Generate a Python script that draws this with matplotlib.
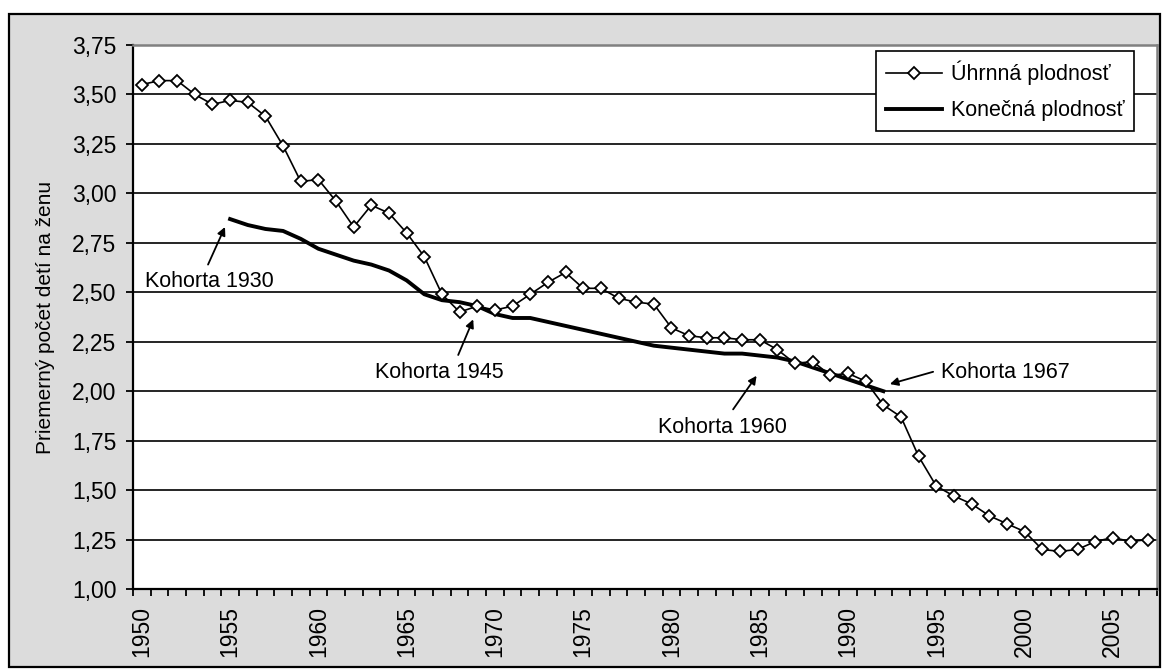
import matplotlib as mpl
import matplotlib.pyplot as plt
from matplotlib.patches import Rectangle
from matplotlib.ticker import FixedLocator, FuncFormatter

mpl.use("Agg")
plt.rcParams["font.family"] = ["Liberation Sans", "DejaVu Sans"]

# --- Data ---
years = list(range(1950, 2008))
tfr = [
    3.55, 3.57, 3.57, 3.50, 3.45, 3.47, 3.46, 3.39, 3.24, 3.06,
    3.07, 2.96, 2.83, 2.94, 2.90, 2.80, 2.68, 2.49, 2.40, 2.43,
    2.41, 2.43, 2.49, 2.55, 2.60, 2.52, 2.52, 2.47, 2.45, 2.44,
    2.32, 2.28, 2.27, 2.27, 2.26, 2.26, 2.21, 2.14, 2.15, 2.08,
    2.09, 2.05, 1.93, 1.87, 1.67, 1.52, 1.47, 1.43, 1.37, 1.33,
    1.29, 1.20, 1.19, 1.20, 1.24, 1.26, 1.24, 1.25,
]
# completed cohort fertility, cohorts 1930-1967 plotted at cohort + 25
cohort_years = list(range(1955, 1993))
cohort_cfr = [
    2.87, 2.84, 2.82, 2.81, 2.77, 2.72, 2.69, 2.66, 2.64, 2.61,
    2.56, 2.49, 2.46, 2.45, 2.43, 2.39, 2.37, 2.37, 2.35, 2.33,
    2.31, 2.29, 2.27, 2.25, 2.23, 2.22, 2.21, 2.20, 2.19, 2.19,
    2.18, 2.17, 2.15, 2.12, 2.09, 2.06, 2.03, 2.00,
]
series_labels = ["Úhrnná plodnosť", "Konečná plodnosť"]
y_label = "Priemerný počet detí na ženu"
y_ticks = [1.00, 1.25, 1.50, 1.75, 2.00, 2.25, 2.50, 2.75, 3.00, 3.25, 3.50, 3.75]
x_label_years = list(range(1950, 2010, 5))

W, H = 1165, 671
fs = 15.5      # annotations, legend
fs_tick = 16.5

fig = plt.figure(figsize=(W / 100, H / 100), dpi=100)
fig.patch.set_facecolor("white")
# chart area (grey with black frame)
frame = Rectangle((9 / W, 1 - 667 / H), (1160 - 9) / W, (667 - 14) / H,
                  transform=fig.transFigure, facecolor="#dcdcdc",
                  edgecolor="black", linewidth=1.6, zorder=-10)
fig.add_artist(frame)

ax = fig.add_axes([133 / W, 1 - 589 / H, (1157 - 133) / W, (589 - 45) / H])
ax.set_zorder(1)
ax.set_facecolor("white")

ax.plot(years, tfr, color="black", lw=1.2, marker="D", markersize=6.6,
        markerfacecolor="white", markeredgecolor="black", markeredgewidth=1.3,
        label=series_labels[0], zorder=4)
ax.plot(cohort_years, cohort_cfr, color="black", lw=2.8,
        label=series_labels[1], zorder=3)

ax.set_xlim(1949.5, 2007.5)
ax.set_ylim(1.0, 3.75)

ax.yaxis.set_major_locator(FixedLocator(y_ticks))
ax.yaxis.set_major_formatter(FuncFormatter(lambda v, p: f"{v:.2f}".replace(".", ",")))
ax.grid(axis="y", color="black", lw=1.2, zorder=1)
ax.set_axisbelow(True)

ax.set_xticks(x_label_years)
ax.set_xticklabels([str(y) for y in x_label_years], rotation=90)
ax.set_xticks([y - 0.5 for y in years] + [2007.5], minor=True)
ax.tick_params(axis="x", which="major", length=0, pad=12, labelsize=fs_tick)
ax.tick_params(axis="x", which="minor", length=5, width=1.3, direction="out")
ax.tick_params(axis="y", length=5, width=1.3, pad=7, labelsize=fs_tick)

for side in ["left", "bottom"]:
    ax.spines[side].set_color("black")
    ax.spines[side].set_linewidth(1.6)
for side in ["top", "right"]:
    ax.spines[side].set_color("#808080")
    ax.spines[side].set_linewidth(1.8)

ax.set_ylabel(y_label, fontsize=15, labelpad=12)

# cohort annotations
notes = [
    ("Kohorta 1930", (1954.71, 2.83), (1953.75, 2.64), (1950.18, 2.553)),
    ("Kohorta 1945", (1968.77, 2.363), (1967.92, 2.183), (1963.20, 2.093)),
    ("Kohorta 1960", (1984.82, 2.078), (1983.49, 1.908), (1979.23, 1.817)),
    ("Kohorta 1967", (1992.37, 2.036), (1994.82, 2.098), (1995.25, 2.093)),
]
for text, tip, tail, pos in notes:
    ax.annotate("", xy=tip, xytext=tail,
                arrowprops=dict(arrowstyle="-|>", color="black", lw=1.3,
                                mutation_scale=12, shrinkA=0, shrinkB=0),
                zorder=5)
    ax.text(pos[0], pos[1], text, fontsize=fs, ha="left", va="center", zorder=5)

leg = ax.legend(loc="upper right", bbox_to_anchor=(0.9775, 0.989),
                borderaxespad=0, fontsize=fs, fancybox=False, framealpha=1,
                edgecolor="black", handlelength=2.6, handletextpad=0.4,
                labelspacing=0.7, borderpad=0.45)
leg.get_frame().set_linewidth(1.2)

fig.savefig("out.png", dpi=100)
